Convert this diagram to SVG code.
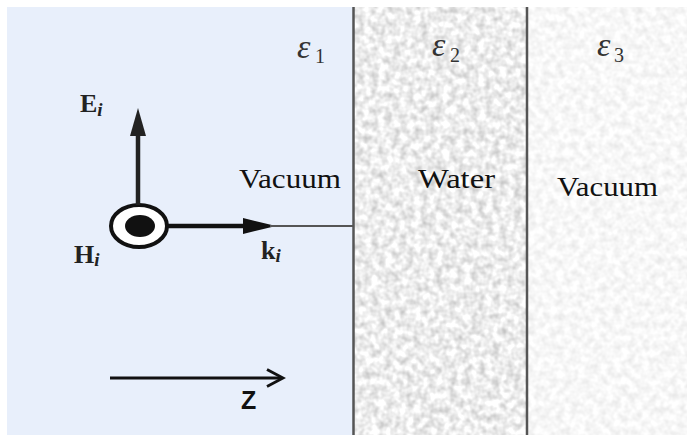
<svg xmlns="http://www.w3.org/2000/svg" width="687" height="436" viewBox="0 0 687 436">
<defs>
<style>
.lbl{font-family:"Liberation Serif","Times New Roman",serif;fill:#111;}
.vec{font-family:"Liberation Serif","Times New Roman",serif;font-weight:bold;fill:#222;}
.eps{font-family:"Liberation Serif","Times New Roman",serif;font-style:italic;fill:#333;}
.sub{font-family:"Liberation Serif","Times New Roman",serif;fill:#333;}
.div{stroke:#555;stroke-width:2.5;}
</style>
<filter id="tex2" x="0" y="0" width="1" height="1" color-interpolation-filters="sRGB">
<feTurbulence type="fractalNoise" baseFrequency="0.14" numOctaves="2" seed="3" result="n"/>
<feColorMatrix in="n" type="matrix" values="0.4 0 0 0 0.73  0.4 0 0 0 0.73  0.4 0 0 0 0.73  0 0 0 0 1" result="c"/>
<feComposite in="c" in2="SourceGraphic" operator="in"/>
</filter>
<filter id="tex3" x="0" y="0" width="1" height="1" color-interpolation-filters="sRGB">
<feTurbulence type="fractalNoise" baseFrequency="0.14" numOctaves="2" seed="7" result="n"/>
<feColorMatrix in="n" type="matrix" values="0.16 0 0 0 0.89  0.16 0 0 0 0.89  0.16 0 0 0 0.89  0 0 0 0 1" result="c"/>
<feComposite in="c" in2="SourceGraphic" operator="in"/>
</filter>
</defs>
<rect width="687" height="436" fill="#ffffff"/>
<g id="region1">
<rect x="7" y="7" width="347" height="428" fill="#e8effb"/>
<text class="eps" x="297" y="58" font-size="34">ε</text>
<text class="sub" x="315" y="63" font-size="20">1</text>
<text class="lbl" x="239" y="188" font-size="28" textLength="102" lengthAdjust="spacingAndGlyphs">Vacuum</text>
</g>
<g id="region2">
<rect x="354" y="7" width="173" height="428" fill="#ffffff" filter="url(#tex2)"/>
<text class="eps" x="432" y="56" font-size="34">ε</text>
<text class="sub" x="450" y="62" font-size="20">2</text>
<text class="lbl" x="418" y="188" font-size="28" textLength="77" lengthAdjust="spacingAndGlyphs">Water</text>
</g>
<g id="region3">
<rect x="527" y="7" width="160" height="428" fill="#ffffff" filter="url(#tex3)"/>
<text class="eps" x="597" y="56" font-size="34">ε</text>
<text class="sub" x="614" y="62" font-size="20">3</text>
<text class="lbl" x="557" y="196" font-size="28" textLength="101" lengthAdjust="spacingAndGlyphs">Vacuum</text>
</g>
<g id="dividers">
<line class="div" x1="353.5" y1="7" x2="353.5" y2="435"/>
<line class="div" x1="527" y1="7" x2="527" y2="435"/>
</g>
<g id="Hi">
<ellipse cx="139" cy="226" rx="28" ry="21" fill="#ffffff" stroke="#111" stroke-width="4"/>
<ellipse cx="140" cy="226" rx="15" ry="11" fill="#111"/>
<text class="vec" x="74" y="263" font-size="26">H<tspan font-style="italic" font-size="19" dy="3">i</tspan></text>
</g>
<g id="Ei">
<text class="vec" x="80" y="112" font-size="26">E<tspan font-style="italic" font-size="19" dy="4">i</tspan></text>
</g>
<g id="ki">
<text class="vec" x="261" y="259" font-size="26">k<tspan font-style="italic" font-size="19" dy="3">i</tspan></text>
</g>
<g id="Z">
<text x="241" y="409" font-family="'Liberation Sans',Arial,sans-serif" font-weight="bold" font-size="25" fill="#111">Z</text>
</g>
<g id="connectors">
<line x1="138" y1="205" x2="138" y2="133" stroke="#222" stroke-width="4.5"/>
<polygon points="138,108 130,136 146,136" fill="#222"/>
<line x1="167" y1="226" x2="248" y2="226" stroke="#111" stroke-width="4.5"/>
<polygon points="276,226 243,218 243,234" fill="#111"/>
<line x1="270" y1="226" x2="353" y2="226" stroke="#555" stroke-width="1.8"/>
<line x1="110" y1="378" x2="281" y2="378" stroke="#111" stroke-width="2.8"/>
<polyline points="267,369.5 283,378 267,386.5" fill="none" stroke="#111" stroke-width="2.8"/>
</g>
</svg>
